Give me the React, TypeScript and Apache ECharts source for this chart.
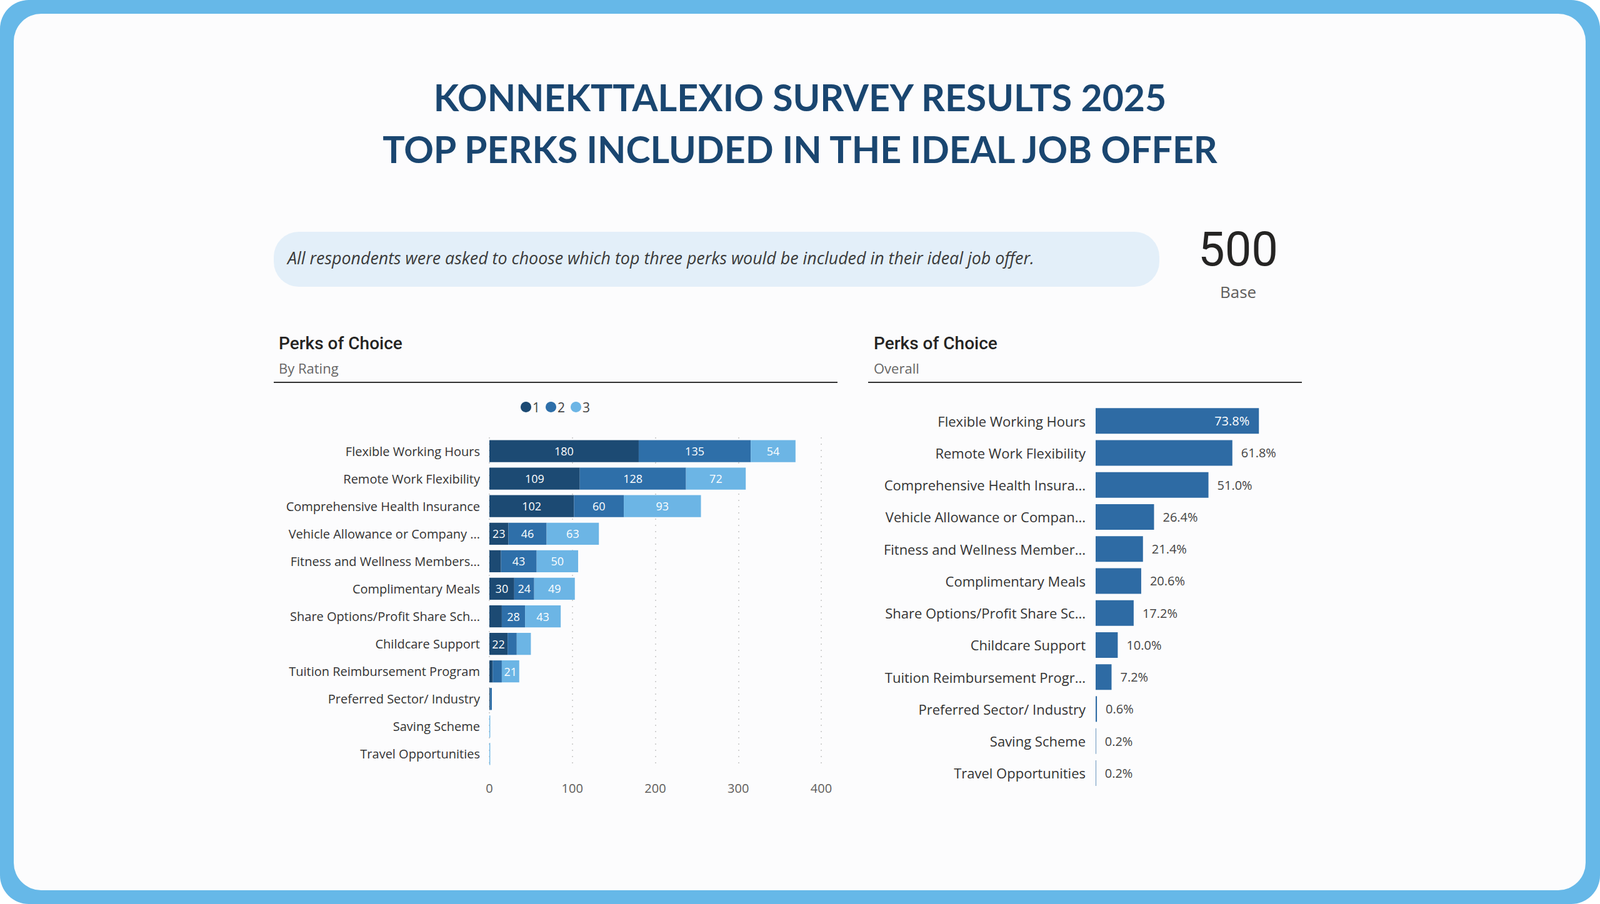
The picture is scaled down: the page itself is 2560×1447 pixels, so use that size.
import React, { useEffect, useRef } from "react";
import * as echarts from "echarts";

const categories = [
  "Flexible Working Hours",
  "Remote Work Flexibility",
  "Comprehensive Health Insurance",
  "Vehicle Allowance or Company Car",
  "Fitness and Wellness Membership",
  "Complimentary Meals",
  "Share Options/Profit Share Scheme",
  "Childcare Support",
  "Tuition Reimbursement Program",
  "Preferred Sector/ Industry",
  "Saving Scheme",
  "Travel Opportunities",
];
const rating1 = [180, 109, 102, 23, 14, 30, 15, 22, 4, 1, 0, 0];
const rating2 = [135, 128, 60, 46, 43, 24, 28, 11, 11, 2, 0, 0];
const rating3 = [54, 72, 93, 63, 50, 49, 43, 17, 21, 0, 1, 1];
const ratingNames = ["1", "2", "3"];
const overallPct = [73.8, 61.8, 51.0, 26.4, 21.4, 20.6, 17.2, 10.0, 7.2, 0.6, 0.2, 0.2];
const leftTicks = [0, 100, 200, 300, 400];

const titleLines = ["KONNEKTTALEXIO SURVEY RESULTS 2025", "TOP PERKS INCLUDED IN THE IDEAL JOB OFFER"];
const infoText = "All respondents were asked to choose which top three perks would be included in their ideal job offer.";
const baseValue = "500";
const baseLabel = "Base";
const sectionTitle = "Perks of Choice";
const leftSubtitle = "By Rating";
const rightSubtitle = "Overall";

const colors = ["#1C4A73", "#2E6FA9", "#6CB5E5"];
const overallColor = "#2E6BA4";
const FONT = "'Open Sans', 'Noto Sans', sans-serif";

export default function App() {
  const ref = useRef<HTMLDivElement>(null);
  useEffect(() => {
    document.body.style.margin = "0";
    const chart = echarts.init(ref.current!, null, { renderer: "svg" });
    const labelFmt = (p: any) => (p.value >= 20 ? String(p.value) : "");
    const stackSeries = [rating1, rating2, rating3].map((arr, i) => ({
      name: ratingNames[i],
      type: "bar",
      stack: "total",
      xAxisIndex: 0,
      yAxisIndex: 0,
      barCategoryGap: "20%",
      data: arr,
      itemStyle: { color: colors[i] },
      label: {
        show: true,
        position: "inside",
        color: "#FFFFFF",
        fontFamily: FONT,
        fontSize: 18,
        formatter: labelFmt,
      },
    }));
    const overallData = overallPct.map((v) =>
      v >= 70
        ? { value: v, label: { position: "insideRight", color: "#FFFFFF", distance: 15 } }
        : v
    );
    chart.setOption({
      animation: false,
      textStyle: { fontFamily: FONT },
      graphic: [
        { type: "rect", z: -5, shape: { x: 0, y: 0, width: 2560, height: 1447, r: 46 }, style: { fill: "#66B8E8" } },
        { type: "rect", z: -4, shape: { x: 22, y: 22, width: 2515, height: 1403, r: 44 }, style: { fill: "#FCFCFD" } },
        {
          type: "text", z: 5, x: 1280, y: 155,
          style: { text: titleLines[0], font: "bold 59px Lato", fill: "#1A4670", align: "center", verticalAlign: "middle" },
        },
        {
          type: "text", z: 5, x: 1280, y: 238,
          style: { text: titleLines[1], font: "bold 59px Lato", fill: "#1A4670", align: "center", verticalAlign: "middle" },
        },
        { type: "rect", z: -2, shape: { x: 438, y: 371, width: 1417, height: 88, r: 40 }, style: { fill: "#E3EFF9" } },
        {
          type: "text", z: 5, x: 460, y: 412,
          style: { text: infoText, font: "italic 26.8px 'Open Sans'", fill: "#3A3A3A", verticalAlign: "middle" },
        },
        {
          type: "text", z: 5, x: 1981, y: 399,
          style: { text: baseValue, font: "76px Roboto", fill: "#252423", align: "center", verticalAlign: "middle" },
        },
        {
          type: "text", z: 5, x: 1981, y: 467,
          style: { text: baseLabel, font: "26px 'Open Sans'", fill: "#605E5C", align: "center", verticalAlign: "middle" },
        },
        {
          type: "text", z: 5, x: 446, y: 549,
          style: { text: sectionTitle, font: "500 28px Roboto", fill: "#252423", verticalAlign: "middle" },
        },
        {
          type: "text", z: 5, x: 446, y: 589,
          style: { text: leftSubtitle, font: "22px 'Open Sans'", fill: "#666666", verticalAlign: "middle" },
        },
        { type: "rect", z: 5, shape: { x: 438, y: 611, width: 902, height: 2 }, style: { fill: "#333333" } },
        {
          type: "text", z: 5, x: 1398, y: 549,
          style: { text: sectionTitle, font: "500 28px Roboto", fill: "#252423", verticalAlign: "middle" },
        },
        {
          type: "text", z: 5, x: 1398, y: 589,
          style: { text: rightSubtitle, font: "22px 'Open Sans'", fill: "#666666", verticalAlign: "middle" },
        },
        { type: "rect", z: 5, shape: { x: 1389, y: 611, width: 694, height: 2 }, style: { fill: "#333333" } },
      ],
      legend: {
        data: ratingNames,
        left: 828,
        top: 636,
        icon: "circle",
        itemWidth: 17,
        itemHeight: 17,
        itemGap: 9,
        textStyle: { fontFamily: FONT, fontSize: 21, color: "#444444", padding: [0, 0, 0, -3] },
      },
      grid: [
        { left: 783, top: 700, width: 531, height: 529, containLabel: false },
        { left: 1753, top: 648, width: 354, height: 615, containLabel: false },
      ],
      xAxis: [
        {
          type: "value",
          gridIndex: 0,
          min: leftTicks[0],
          max: leftTicks[leftTicks.length - 1],
          interval: leftTicks[1] - leftTicks[0],
          axisLine: { show: false },
          axisTick: { show: false },
          axisLabel: { color: "#605E5C", fontFamily: FONT, fontSize: 20, margin: 22 },
          splitLine: { show: true, lineStyle: { type: [2, 8], color: "#C4C4C4", width: 1.5 } },
        },
        {
          type: "value",
          gridIndex: 1,
          min: 0,
          max: 100,
          show: false,
          splitLine: { show: false },
        },
      ],
      yAxis: [
        {
          type: "category",
          gridIndex: 0,
          data: categories,
          inverse: true,
          axisLine: { show: false },
          axisTick: { show: false },
          axisLabel: {
            color: "#333333",
            fontFamily: FONT,
            fontSize: 20,
            margin: 15,
            width: 313,
            overflow: "truncate",
            ellipsis: "...",
          },
        },
        {
          type: "category",
          gridIndex: 1,
          data: categories,
          inverse: true,
          axisLine: { show: false },
          axisTick: { show: false },
          axisLabel: {
            color: "#333333",
            fontFamily: FONT,
            fontSize: 22,
            margin: 16,
            width: 328,
            overflow: "truncate",
            ellipsis: "...",
          },
        },
      ],
      series: [
        ...stackSeries,
        {
          name: "Overall",
          type: "bar",
          xAxisIndex: 1,
          yAxisIndex: 1,
          barCategoryGap: "20%",
          data: overallData,
          itemStyle: { color: overallColor },
          label: {
            show: true,
            position: "right",
            distance: 14,
            color: "#444444",
            fontFamily: FONT,
            fontSize: 20,
            formatter: (p: any) => Number(p.value).toFixed(1) + "%",
          },
        },
      ],
    });
    return () => chart.dispose();
  }, []);
  return (
    <div
      ref={ref}
      style={{ position: "absolute", left: 0, top: 0, width: 2560, height: 1447 }}
    />
  );
}
